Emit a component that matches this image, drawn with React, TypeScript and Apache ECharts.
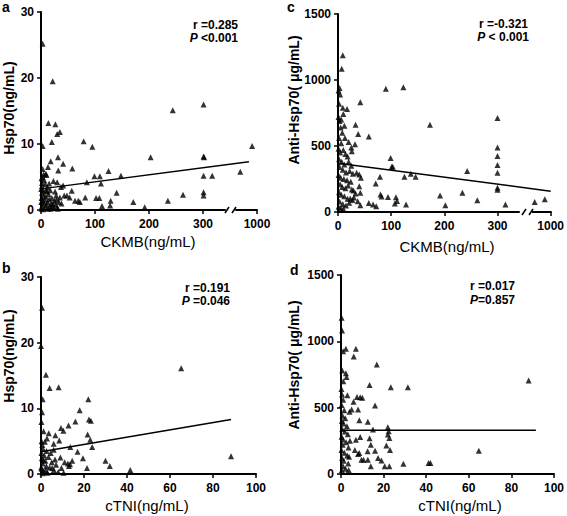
import React, { useEffect, useRef } from "react";
import * as echarts from "echarts";

// Panel a: CKMB (ng/mL) vs Hsp70 (ng/mL)
const ckmbHsp70: [number, number][] = [
  [3, 25.2], [21.6, 19.5], [13.6, 13.2], [26.6, 13.0], [30, 11.5], [35, 11.8], [20, 10.3], [3, 9.7], [79, 10.4], [95, 9.6],
  [18, 7.4], [31.5, 8.0], [32, 6.0], [41, 7.0], [58, 6.3], [13, 6.5], [9, 5.5], [10, 5.3], [3, 6.2], [23, 4.4],
  [30, 4.2], [37, 3.5], [41, 3.7], [85, 4.2], [99, 5.1], [109, 5.1], [111, 4.0], [125, 5.9], [148, 5.2], [203, 8.0],
  [244, 15.1], [301, 16.0], [301, 8.1], [302, 8.0], [301, 5.2], [317, 5.2], [301, 2.7], [301, 2.2], [263, 2.3], [235, 1.4],
  [171, 1.2], [192, 0.4], [140, 2.6], [129, 1.4], [128, 0.7], [113, 0.6], [102, 1.8], [108, 1.8], [82, 1.9], [69, 1.4],
  [72, 1.2], [63, 1.4], [57, 2.9], [48, 2.2], [53, 1.9], [35, 1.9], [38, 1.0], [43, 2.2], [969, 5.8], [991, 9.7],
  [1, 4.8], [2, 4.1], [1.5, 3.6], [4, 3.0], [2, 2.6], [5, 2.2], [1, 1.8], [3, 1.4], [6, 1.0], [2, 0.6],
  [1, 0.2], [8, 0.4], [10, 0.8], [12, 1.2], [7, 1.6], [9, 2.0], [11, 2.8], [14, 2.4], [15, 1.6], [16, 0.6],
  [18, 0.2], [19, 1.0], [20, 1.8], [22, 0.9], [24, 0.3], [25, 1.4], [27, 0.8], [28, 2.2], [30, 0.4], [33, 1.2],
  [12, 3.4], [17, 3.0], [6, 4.5], [8, 3.9], [3, 5.0], [26, 2.8], [29, 1.6], [0.5, 3.2], [0.5, 1.2], [4, 0.1],
  [13, 0.2], [21, 0.5], [31, 0.2], [9, 2.9], [5, 5.4], [15, 4.0],
];
const fitA: [number, number][] = [[0, 3.2], [985, 7.3]];

// Panel c: CKMB (ng/mL) vs Anti-Hsp70 (µg/mL)
const ckmbAnti: [number, number][] = [
  [9, 1187], [7, 1085], [3, 940], [4, 890], [90, 933], [123, 946], [42, 831], [9, 790], [17, 780], [10, 742],
  [300, 712], [33, 661], [12, 653], [173, 661], [58, 572], [38, 590], [25, 488], [32, 513], [300, 488], [300, 424],
  [300, 356], [300, 297], [300, 183], [300, 168], [99, 409], [101, 343], [103, 343], [137, 290], [125, 267], [146, 267],
  [243, 310], [234, 145], [192, 125], [202, 51], [262, 89], [315, 56], [970, 76], [989, 96], [79, 267], [71, 216],
  [80, 132], [82, 117], [94, 114], [111, 84], [109, 112], [107, 64], [128, 56], [58, 69], [66, 56], [72, 43],
  [42, 51], [37, 81], [42, 145], [40, 196], [43, 259], [35, 297], [40, 285], [29, 163], [23, 102],
  [1, 920], [2, 820], [1, 720], [3, 690], [5, 640], [8, 600], [2, 560], [6, 520], [1, 480], [4, 450],
  [10, 470], [14, 440], [18, 420], [2, 400], [7, 380], [12, 360], [20, 380], [25, 350], [3, 340], [9, 320],
  [15, 300], [22, 310], [28, 290], [1, 280], [5, 260], [11, 250], [17, 240], [24, 230], [4, 210], [8, 190],
  [14, 180], [19, 200], [26, 170], [2, 150], [6, 130], [12, 120], [18, 100], [27, 90], [3, 80], [9, 60],
  [15, 50], [21, 70], [30, 110], [1, 40], [5, 30], [10, 25], [33, 140], [6, 700], [13, 560], [20, 530], [26, 460],
];
const fitC: [number, number][] = [[0, 369], [1000, 158]];

// Panel b: cTNI (ng/mL) vs Hsp70 (ng/mL)
const ctniHsp70: [number, number][] = [
  [0.5, 25.3], [0, 19.5], [2.3, 15.1], [4, 13.1], [8.2, 13.2], [0.8, 11.4], [22, 11.4], [18, 9.7], [16, 8.0], [22.3, 8.3],
  [23.2, 8.1], [9.3, 7.0], [10.4, 6.6], [12.8, 7.4], [0.5, 9.4], [0.2, 7.9], [1.2, 6.5], [3.6, 6.2], [6.7, 5.9], [2.8, 5.4],
  [8.5, 5.1], [5.9, 4.6], [21.7, 6.0], [22.9, 5.2], [23.8, 4.1], [13.6, 4.1], [17, 3.4], [5.9, 3.7], [19.5, 2.4], [9, 2.5],
  [12.5, 1.6], [13.5, 1.5], [14.5, 2.0], [13, 1.2], [21.4, 0.9], [30, 2.0], [32, 1.2], [41.5, 0.6], [65.2, 16.1], [88.4, 2.7],
  [0.3, 5.0], [0.6, 4.4], [1, 3.8], [0.2, 3.2], [1.5, 2.8], [0.4, 2.4], [2, 2.0], [0.8, 1.6], [2.5, 1.2], [0.3, 0.8],
  [1.2, 0.4], [3, 0.2], [4, 1.0], [5, 1.8], [3.5, 2.6], [4.5, 3.2], [6, 0.6], [7, 1.4], [8, 0.3], [9.5, 0.9],
  [10.5, 0.2], [11, 1.8], [1.8, 4.9], [2.6, 3.5], [0.1, 1.0], [0.7, 0.1], [6.5, 2.2], [5.2, 0.9], [2.2, 0.6], [1.1, 2.1],
];
const fitB: [number, number][] = [[0, 3.4], [88.4, 8.3]];

// Panel d: cTNI (ng/mL) vs Anti-Hsp70 (µg/mL)
const ctniAnti: [number, number][] = [
  [0.3, 1178], [0.5, 1082], [1, 926], [2.3, 944], [7, 944], [6, 886], [16.8, 826], [2.3, 760], [2.6, 732], [13.4, 670],
  [23.4, 654], [31.4, 654], [88.1, 705], [3, 594], [7.5, 580], [9, 578], [10, 575], [5.9, 544], [16, 516], [5, 486],
  [4, 470], [8, 486], [8.6, 405], [12.6, 393], [15, 335], [22, 352], [22.4, 322], [22, 297], [22.7, 272], [13.4, 269],
  [7, 259], [9, 279], [8.6, 159], [8, 150], [12.5, 171], [16, 176], [21.3, 214], [23, 181], [14, 221], [6.5, 181],
  [64.7, 176], [17.4, 121], [19, 101], [9.6, 108], [10.6, 108], [12.6, 108], [20.5, 58], [22.7, 58], [14, 58], [29.3, 78],
  [41.1, 83], [42, 83],
  [0.2, 640], [0.5, 600], [1, 560], [0.3, 520], [1.5, 480], [0.7, 440], [2, 420], [0.4, 400], [1.2, 380], [2.8, 360],
  [0.6, 340], [1.8, 320], [3.2, 300], [0.3, 280], [1, 260], [2.4, 240], [0.8, 220], [3.5, 200], [0.2, 180], [1.6, 160],
  [2.9, 140], [0.5, 120], [1.3, 100], [3.4, 80], [0.9, 60], [2.1, 40], [0.4, 30], [3.8, 130], [4.2, 250], [1.1, 700],
  [0.6, 780], [3.6, 30],
];
const fitD: [number, number][] = [[0, 330], [91.5, 330]];

const ckmbTicks = [0, 100, 200, 300, 1000];
const FONT = "'Liberation Sans', Arial, sans-serif";
const plain = (v: number) => String(v);

function yAxisCfg(gridIndex: number, max: number, interval: number) {
  return {
    type: "value", gridIndex, min: 0, max, interval,
    axisLine: { show: true, lineStyle: { color: "#000", width: 2 } },
    axisTick: { show: true, length: 4, lineStyle: { color: "#000", width: 1.5 } },
    axisLabel: { color: "#000", fontSize: 12, fontWeight: "bold", fontFamily: FONT, margin: 7, formatter: plain },
    splitLine: { show: false },
  };
}

function xAxisCfgBreak(gridIndex: number) {
  return {
    type: "value", gridIndex, min: 0, max: 1000,
    breaks: [{ start: 340, end: 960, gap: 20 }],
    breakArea: { show: false },
    axisLine: { show: true, lineStyle: { color: "#000", width: 2 } },
    axisTick: { show: true, length: 4, customValues: ckmbTicks, lineStyle: { color: "#000", width: 1.5 } },
    axisLabel: { color: "#000", fontSize: 12, fontWeight: "bold", fontFamily: FONT, margin: 8, customValues: ckmbTicks, formatter: plain },
    splitLine: { show: false },
  };
}

function xAxisCfg(gridIndex: number) {
  return {
    type: "value", gridIndex, min: 0, max: 100, interval: 20,
    axisLine: { show: true, lineStyle: { color: "#000", width: 2 } },
    axisTick: { show: true, length: 4, lineStyle: { color: "#000", width: 1.5 } },
    axisLabel: { color: "#000", fontSize: 12, fontWeight: "bold", fontFamily: FONT, margin: 8, formatter: plain },
    splitLine: { show: false },
  };
}

function scatter(i: number, data: [number, number][]) {
  return {
    type: "scatter", xAxisIndex: i, yAxisIndex: i, data,
    symbol: "triangle", symbolSize: 6, itemStyle: { color: "#000" },
  };
}
function fit(i: number, data: [number, number][]) {
  return {
    type: "line", xAxisIndex: i, yAxisIndex: i, data, symbol: "none",
    lineStyle: { color: "#000", width: 1.5 }, z: 3,
  };
}

function txt(x: number, y: number, text: string, opts: any = {}) {
  return {
    type: "text", x, y, rotation: opts.rotation || 0, z: 100,
    style: {
      text, fill: "#000", fontFamily: FONT, fontSize: opts.fontSize || 12,
      fontWeight: opts.fontWeight || "bold", fontStyle: opts.fontStyle || "normal",
      align: opts.align || "left", verticalAlign: opts.verticalAlign || "middle",
      rich: opts.rich,
    },
  };
}

// axis-break marker: white gap and two slashes on the x axis line
function breakMark(x0: number, x1: number, y: number) {
  return {
    type: "group", z: 100,
    children: [
      { type: "rect", z: 100, shape: { x: x0, y: y - 3, width: x1 - x0, height: 6 }, style: { fill: "#fff" } },
      { type: "line", z: 101, shape: { x1: x0 - 1, y1: y + 3, x2: x0 + 3, y2: y - 3 }, style: { stroke: "#000", lineWidth: 1.5 } },
      { type: "line", z: 101, shape: { x1: x1 - 3, y1: y + 3, x2: x1 + 1, y2: y - 3 }, style: { stroke: "#000", lineWidth: 1.5 } },
    ],
  };
}

const pRich = {
  i: { fontStyle: "italic", fontWeight: "bold", fontSize: 12, fontFamily: FONT, fill: "#000" },
};

export default function App() {
  const ref = useRef<HTMLDivElement>(null);
  useEffect(() => {
    document.body.style.margin = "0";
    const chart = echarts.init(ref.current!, null, { renderer: "svg" });
    chart.setOption({
      animation: false,
      backgroundColor: "#fff",
      grid: [
        { left: 41, top: 12, width: 216, height: 198 },
        { left: 338, top: 14, width: 216, height: 198 },
        { left: 41, top: 277, width: 215, height: 197 },
        { left: 341, top: 275, width: 216, height: 199 },
      ],
      xAxis: [xAxisCfgBreak(0), xAxisCfgBreak(1), xAxisCfg(2), xAxisCfg(3)],
      yAxis: [yAxisCfg(0, 30, 10), yAxisCfg(1, 1500, 500), yAxisCfg(2, 30, 10), yAxisCfg(3, 1500, 500)],
      series: [
        scatter(0, ckmbHsp70), fit(0, fitA),
        scatter(1, ckmbAnti), fit(1, fitC),
        scatter(2, ctniHsp70), fit(2, fitB),
        scatter(3, ctniAnti), fit(3, fitD),
      ],
      graphic: [
        breakMark(226, 235, 210),
        breakMark(523, 532, 212),
        txt(2, 7, "a", { fontSize: 14 }),
        txt(287, 7, "c", { fontSize: 14 }),
        txt(2, 268, "b", { fontSize: 14 }),
        txt(290, 270, "d", { fontSize: 14 }),
        txt(9, 108, "Hsp70(ng/mL)", { rotation: Math.PI / 2, align: "center", fontSize: 14 }),
        txt(294, 100, "Anti-Hsp70( μg/mL)", { rotation: Math.PI / 2, align: "center", fontSize: 14 }),
        txt(9, 356, "Hsp70(ng/mL)", { rotation: Math.PI / 2, align: "center", fontSize: 14 }),
        txt(294, 365, "Anti-Hsp70( μg/mL)", { rotation: Math.PI / 2, align: "center", fontSize: 14 }),
        txt(148, 241, "CKMB(ng/mL)", { align: "center", fontSize: 15, fontWeight: "normal" }),
        txt(447, 246, "CKMB(ng/mL)", { align: "center", fontSize: 15, fontWeight: "normal" }),
        txt(147, 505, "cTNI(ng/mL)", { align: "center", fontSize: 15, fontWeight: "normal" }),
        txt(460, 505, "cTNI(ng/mL)", { align: "center", fontSize: 15, fontWeight: "normal" }),
        txt(238, 25, "r =0.285", { align: "right" }),
        txt(238, 38, "{i|P} <0.001", { align: "right", rich: pRich }),
        txt(528, 24, "r =-0.321", { align: "right" }),
        txt(529, 37, "{i|P} < 0.001", { align: "right", rich: pRich }),
        txt(230, 288, "r =0.191", { align: "right" }),
        txt(230, 301, "{i|P} =0.046", { align: "right", rich: pRich }),
        txt(515, 286, "r =0.017", { align: "right" }),
        txt(515, 300, "{i|P}=0.857", { align: "right", rich: pRich }),
      ],
    });
    return () => chart.dispose();
  }, []);
  return <div ref={ref} style={{ width: 567, height: 516 }} />;
}
